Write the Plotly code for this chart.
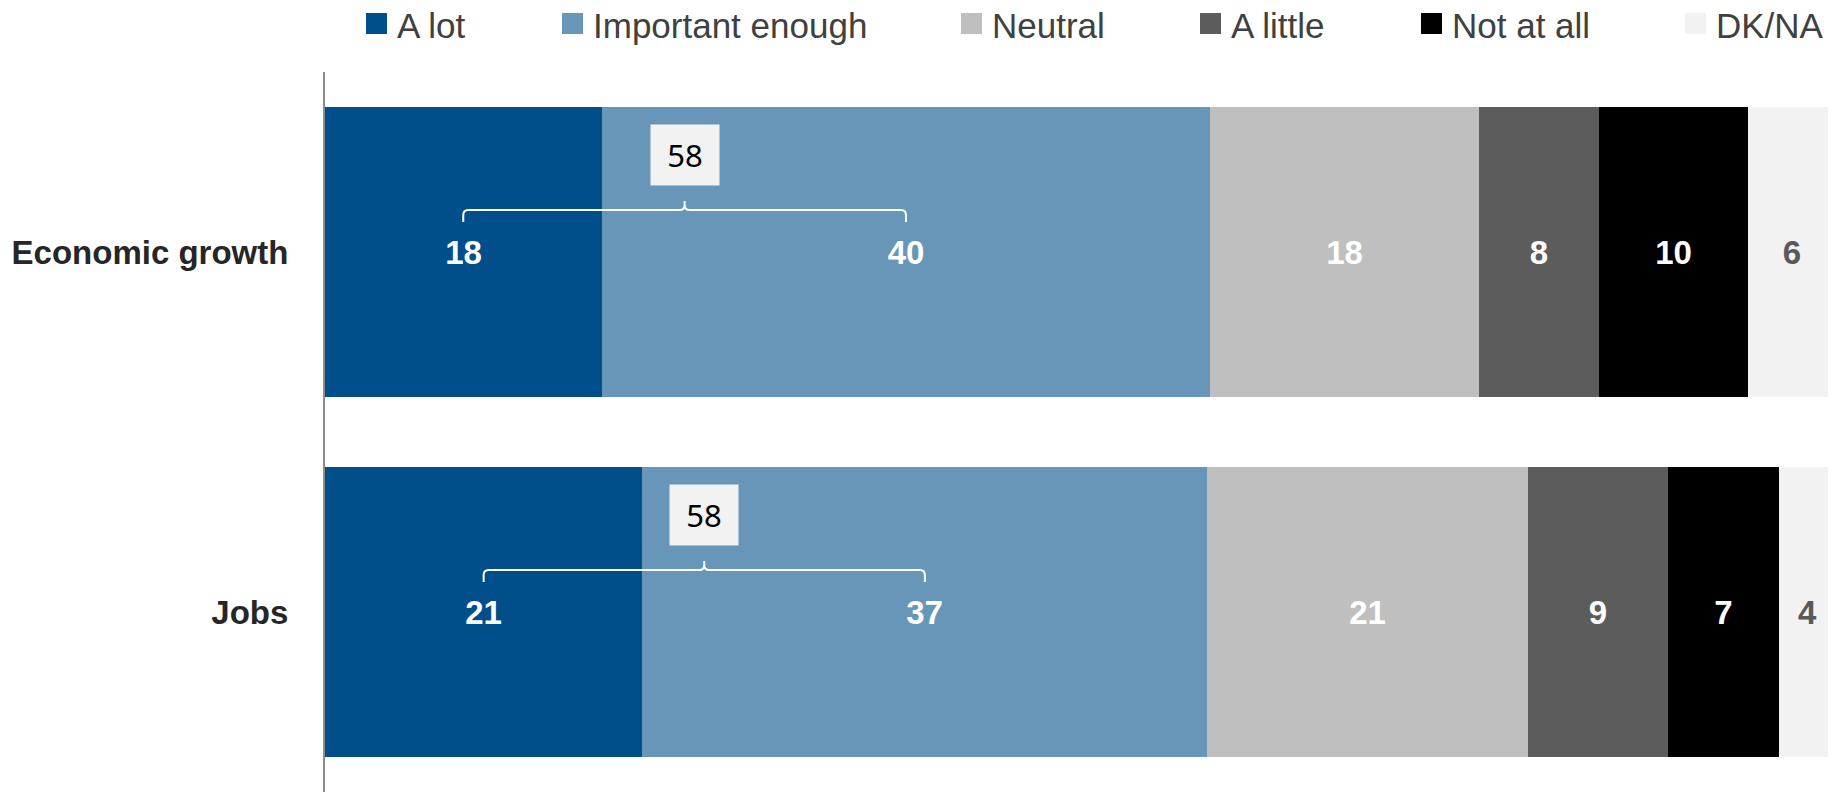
import plotly.graph_objects as go

# ---------------- data ----------------
categories = ["Economic growth", "Jobs"]
series_names = ["A lot", "Important enough", "Neutral", "A little", "Not at all", "DK/NA"]
a_lot = [18.3, 21.0]
important_enough = [40.3, 37.4]
neutral = [17.8, 21.2]
a_little = [7.9, 9.3]
not_at_all = [9.9, 7.3]
dk_na = [5.8, 3.8]
net_important = [58, 58]

series_values = [a_lot, important_enough, neutral, a_little, not_at_all, dk_na]

# ---------------- style ----------------
colors = ["#004f8a", "#6896b8", "#bfbfbf", "#5c5c5c", "#000000", "#f2f2f2"]
label_colors = ["#ffffff", "#ffffff", "#ffffff", "#ffffff", "#ffffff", "#595959"]
SANS = "Liberation Sans, Arial, sans-serif"
OFF = 8  # default page body margin
W, H = 1836 - OFF, 792 - OFF
ML, MR, MT, MB = 325 - OFF, 0, 72 - OFF, 0
PW, PH = W - ML - MR, H - MT - MB

y_pos = list(range(len(categories)))

fig = go.Figure()
for name, vals, col, lcol in zip(series_names, series_values, colors, label_colors):
    fig.add_trace(go.Bar(
        name=name, x=vals, y=y_pos, orientation="h",
        marker=dict(color=col, line=dict(width=0)),
        width=0.806,
        texttemplate="%{x:.0f}", textposition="inside",
        insidetextanchor="middle", textangle=0,
        textfont=dict(family=SANS, size=33, color=lcol, weight="bold"),
        showlegend=False,
    ))

shapes = []
annotations = []

# brackets + net boxes
for i in range(len(categories)):
    x1 = a_lot[i] / 2
    x2 = a_lot[i] + important_enough[i] / 2
    xm = (x1 + x2) / 2
    yh = i - 42 / PH * 2
    yend = i - 30 / PH * 2
    ytop = i - 51 / PH * 2
    rx = 5 / PW * 100
    ry = 5 / PH * 2
    path = (f"M {x1},{yend} L {x1},{yh + ry} Q {x1},{yh} {x1 + rx},{yh} "
            f"L {xm - rx},{yh} Q {xm},{yh} {xm},{yh - ry} L {xm},{ytop} "
            f"M {xm},{yh - ry} Q {xm},{yh} {xm + rx},{yh} "
            f"L {x2 - rx},{yh} Q {x2},{yh} {x2},{yh + ry} L {x2},{yend}")
    shapes.append(dict(type="path", path=path, xref="x", yref="y",
                       line=dict(color="#ffffff", width=2)))
    annotations.append(dict(
        x=xm, y=i - 97 / PH * 2, xref="x", yref="y",
        text=str(net_important[i]), showarrow=False,
        bgcolor="#f2f2f2", width=66, height=58,
        font=dict(family="Noto Sans, Open Sans, sans-serif", size=31, color="#000000"),
    ))

# manual legend (positions in viewport px)
legend_left_px = [366, 562, 961, 1200, 1421, 1685]
sq = 21
leg_cy = 23.5
def px_to_paper_x(vx):
    return (vx - OFF - ML) / PW
def px_to_paper_y(vy):
    return (H - MB - (vy - OFF)) / PH
for name, col, lx in zip(series_names, colors, legend_left_px):
    shapes.append(dict(type="rect", xref="paper", yref="paper",
                       x0=px_to_paper_x(lx), x1=px_to_paper_x(lx + sq),
                       y0=px_to_paper_y(leg_cy + sq / 2), y1=px_to_paper_y(leg_cy - sq / 2),
                       fillcolor=col, line=dict(width=0)))
    annotations.append(dict(
        x=px_to_paper_x(lx + 29), y=px_to_paper_y(leg_cy + 1.5),
        xref="paper", yref="paper", xanchor="left", yanchor="middle",
        text=name, showarrow=False,
        font=dict(family=SANS, size=35, color="#404040"),
    ))

fig.update_layout(
    width=W, height=H,
    margin=dict(l=ML, r=MR, t=MT, b=MB, pad=0),
    barmode="stack", bargap=0,
    plot_bgcolor="#ffffff", paper_bgcolor="#ffffff",
    shapes=shapes, annotations=annotations,
    showlegend=False,
    xaxis=dict(range=[0, 100], visible=False, fixedrange=True),
    yaxis=dict(
        range=[len(categories) - 0.5, -0.5],
        tickvals=y_pos, ticktext=categories,
        tickfont=dict(family=SANS, size=33, color="#262626", weight="bold"),
        showline=True, linecolor="#8c8c8c", linewidth=2,
        showgrid=False, zeroline=False, ticks="",
        ticklabelstandoff=28,
    ),
)

fig.write_html("out.html")
